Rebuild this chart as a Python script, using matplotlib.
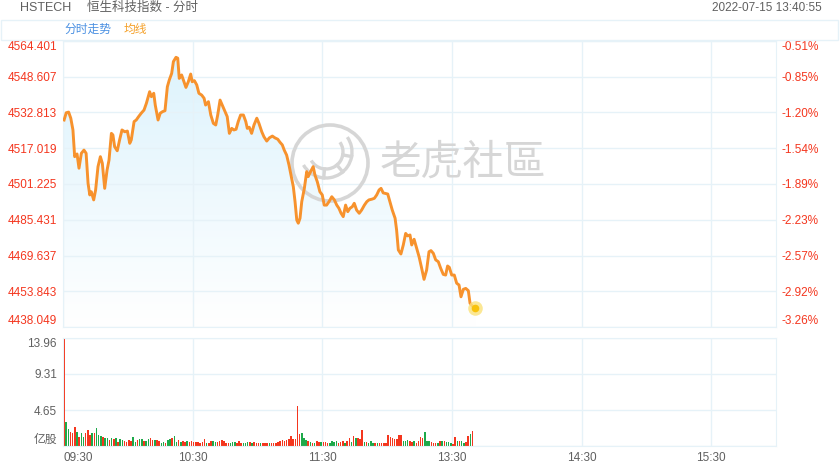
import numpy as np
import matplotlib
matplotlib.use('Agg')
import matplotlib.pyplot as plt
from matplotlib.patches import Rectangle, Circle, Arc, Polygon
from matplotlib.transforms import Affine2D

plt.rcParams['font.family'] = ['Liberation Sans', 'Noto Sans CJK SC', 'DejaVu Sans']

# minutes since 09:30 (lunch break removed), index level
minutes = [0.5, 1.5, 2.6, 3.6, 4.6, 5.4, 6.5, 7.4, 8.5, 9.7,
           10.7, 11.6, 12.4, 13.1, 14.2, 15.1, 16.2, 17.3, 18.2, 19.3,
           20.4, 21.3, 22.4, 23.1, 23.9, 25.1, 26.2, 27.3, 28.6, 29.8,
           30.9, 31.6, 32.9, 33.9, 35.0, 36.2, 37.5, 38.6, 40.1, 40.9,
           42.0, 42.7, 44.0, 45.0, 46.1, 47.2, 48.3, 49.2, 50.3, 51.1,
           52.3, 53.1, 53.8, 54.9, 56.0, 56.9, 58.0, 59.1, 59.8, 60.8,
           61.9, 62.9, 64.2, 65.3, 66.0, 67.3, 68.4, 69.6, 70.7, 71.6,
           72.7, 73.7, 75.0, 76.0, 77.0, 78.1, 79.1, 80.1, 81.1, 82.2,
           83.5, 84.6, 85.3, 86.2, 87.3, 88.4, 89.7, 90.7, 92.0, 93.0,
           94.3, 95.5, 96.9, 98.1, 99.4, 100.4, 101.5, 102.4, 103.5, 104.6,
           105.5, 106.6, 107.4, 108.2, 108.9, 109.7, 110.5, 111.7, 112.8, 113.5,
           114.6, 115.8, 116.6, 117.7, 118.9, 120.0, 120.9, 122.0, 123.1, 124.4,
           125.6, 126.7, 127.7, 128.7, 129.7, 130.8, 131.8, 132.8, 133.9, 134.8,
           135.9, 137.1, 138.2, 139.5, 140.6, 141.6, 142.9, 144.1, 145.2, 146.3,
           147.2, 148.2, 149.0, 150.3, 151.3, 152.4, 153.7, 154.4, 155.2, 156.4,
           157.5, 158.6, 159.5, 160.6, 161.4, 162.5, 163.7, 164.8, 166.0, 167.1,
           168.3, 169.4, 170.3, 171.4, 172.5, 173.7, 174.8, 176.0, 177.1, 178.0,
           178.8, 179.9, 181.1, 182.2, 183.3, 184.2, 185.3, 186.4, 187.6, 188.4,
           189.5, 190.7]
prices = [4529.5, 4532.7, 4533.0, 4530.3, 4525.1, 4513.3, 4514.5, 4508.2, 4514.8, 4516.2,
          4514.8, 4501.5, 4496.4, 4497.8, 4494.2, 4498.6, 4508.9, 4513.3, 4510.4, 4499.3,
          4507.4, 4511.8, 4523.6, 4522.9, 4517.7, 4515.9, 4520.7, 4525.1, 4524.3, 4524.6,
          4519.2, 4520.7, 4528.8, 4529.5, 4531.0, 4532.5, 4533.9, 4536.9, 4542.0, 4539.8,
          4541.3, 4536.1, 4529.5, 4532.5, 4533.2, 4533.6, 4544.2, 4547.2, 4550.1, 4555.3,
          4557.2, 4556.8, 4547.9, 4549.4, 4546.4, 4543.9, 4546.4, 4549.8, 4546.4, 4546.9,
          4545.0, 4541.3, 4540.5, 4539.1, 4536.1, 4537.6, 4531.7, 4528.0, 4527.3, 4531.7,
          4538.3, 4536.1, 4533.2, 4531.0, 4523.6, 4525.8, 4525.1, 4525.4, 4528.8, 4531.7,
          4531.7, 4528.8, 4525.8, 4526.3, 4523.6, 4527.3, 4530.3, 4528.0, 4524.3, 4522.1,
          4520.2, 4521.6, 4522.4, 4521.6, 4521.0, 4519.7, 4518.5, 4516.2, 4514.0, 4509.6,
          4505.2, 4500.0, 4493.4, 4485.3, 4483.9, 4486.1, 4493.4, 4499.3, 4506.7, 4504.5,
          4506.7, 4508.9, 4505.2, 4502.2, 4497.8, 4496.4, 4491.9, 4491.9, 4493.4, 4495.6,
          4494.2, 4491.9, 4490.5, 4488.3, 4486.8, 4491.9, 4489.0, 4490.5, 4491.2, 4492.7,
          4489.7, 4488.3, 4489.7, 4491.9, 4493.4, 4494.2, 4494.5, 4494.9, 4496.4, 4498.6,
          4499.3, 4497.3, 4497.1, 4496.8, 4493.4, 4489.7, 4486.1, 4480.9, 4472.1, 4470.3,
          4474.3, 4479.4, 4478.3, 4478.7, 4474.3, 4476.8, 4472.8, 4469.1, 4464.0, 4459.1,
          4463.2, 4471.3, 4471.8, 4470.6, 4467.7, 4466.9, 4464.0, 4461.3, 4461.0, 4465.0,
          4464.4, 4461.0, 4461.0, 4457.4, 4456.6, 4451.4, 4454.7, 4455.1, 4454.1, 4448.5,
          4447.3, 4446.3]

# per-minute volume (亿股), r = up bar, g = down bar
volumes = [13.96, 3.06, 2.2, 1.85, 1.72, 2.5, 1.77, 1.2, 1.72, 1.2,
           1.64, 2.07, 1.42, 1.72, 1.72, 2.28, 1.42, 1.29, 1.12, 1.0,
           1.0, 0.8, 0.99, 0.86, 0.99, 0.56, 0.86, 0.78, 0.65, 0.56,
           0.78, 0.65, 1.12, 0.52, 0.78, 0.86, 0.86, 0.65, 0.65, 0.9,
           0.99, 0.78, 0.78, 0.78, 0.65, 0.43, 0.56, 0.34, 0.78, 0.86,
           0.99, 1.29, 0.52, 0.78, 0.52, 0.65, 0.52, 0.65, 0.56, 0.65,
           0.52, 0.52, 0.56, 0.43, 0.56, 0.86, 0.43, 0.34, 0.65, 0.65,
           0.56, 0.56, 0.65, 0.78, 0.65, 0.43, 0.34, 0.43, 0.52, 0.56,
           0.34, 0.65, 0.43, 0.43, 0.43, 0.52, 0.56, 0.43, 0.52, 0.43,
           0.43, 0.43, 0.43, 0.34, 0.43, 0.43, 0.34, 0.43, 0.43, 0.56,
           0.65, 0.78, 0.65, 0.78, 0.86, 1.29, 0.9, 0.9, 5.17, 1.55,
           1.64, 0.99, 0.78, 0.65, 0.56, 0.43, 0.43, 0.65, 0.56, 0.52,
           0.56, 0.52, 0.43, 0.34, 0.65, 0.56, 0.65, 0.34, 0.52, 0.65,
           0.43, 0.65, 0.99, 0.56, 1.29, 0.99, 0.99, 0.9, 2.07, 0.56,
           0.52, 0.43, 0.65, 0.43, 0.43, 0.43, 0.34, 0.34, 0.43, 0.34,
           1.42, 1.12, 0.99, 0.9, 0.86, 1.42, 1.42, 0.6, 0.6, 0.78,
           0.6, 0.5, 0.6, 0.45, 0.6, 1.2, 1.0, 1.8, 0.7, 0.7,
           0.5, 0.45, 0.45, 0.45, 0.7, 0.6, 0.7, 0.5, 0.5, 0.45,
           0.3, 1.1, 0.6, 0.7, 0.7, 0.4, 0.5, 1.3, 1.55, 1.94]
vol_dir = ("rggrrrgrgg" "rrrgrgggrg" "grgrgrggrr" "rrggrggrgg" "rrgrrggrgg"
           "rggrgrrgrr" "rrrrrrgrrg" "grrrrrrggg" "rrrgggrgrr" "rgrrrgrrrr"
           "rrrrrrrrrr" "gggrgrgrrg" "rrrggggrrr" "grrgrgrrrg" "rgggrgrrrr"
           "rrrrrrrggg" "rrgrrrrggg" "rrrgrgrggg" "rrgrggrrgr")

price_ticks = [4438.049, 4453.843, 4469.637, 4485.431, 4501.225,
               4517.019, 4532.813, 4548.607, 4564.401]
pct_labels = ['-3.26%', '-2.92%', '-2.57%', '-2.23%', '-1.89%',
              '-1.54%', '-1.20%', '-0.85%', '-0.51%']
vol_ticks = [0, 4.65, 9.31, 13.96]
vol_labels = ['亿股', '4.65', '9.31', '13.96']
time_ticks = [0, 60, 120, 180, 240, 300]
time_labels = ['09:30', '10:30', '11:30', '13:30', '14:30', '15:30']
session_len = 330

RED = '#f4361e'
GREEN = '#1ea94a'
GRID = '#e6f2f8'
GRAY = '#606060'
LINE = '#f7922d'

W, H = 840, 470
fig = plt.figure(figsize=(8.4, 4.7), dpi=100)
px = Affine2D().scale(1, -1).translate(0, H)  # pixel coords, origin top-left

ax = fig.add_axes([63 / W, 1 - 327 / H, 713 / W, 286 / H])
axv = fig.add_axes([63 / W, 1 - 446 / H, 713 / W, 108 / H])

# header
fig.add_artist(Rectangle((1, 20), 837, 20, transform=px, fill=False, ec=GRID, lw=1))
fig.text(20, 8, 'HSTECH', transform=px, fontsize=9, color=GRAY, va='center')
fig.text(87, 8, '恒生科技指数 - 分时', transform=px, fontsize=9, color=GRAY, va='center')
fig.text(822, 8, '2022-07-15 13:40:55', transform=px, fontsize=8.5, color=GRAY,
         va='center', ha='right')
fig.text(64, 30, '分时走势', transform=px, fontsize=8.5, color='#4a90e2', va='center')
fig.text(124, 30, '均线', transform=px, fontsize=8.5, color='#f5a12a', va='center')

# price pane
ylo, yhi = price_ticks[0], price_ticks[-1]
grad = np.linspace(0, 1, 256)[:, None, None]
top_c = np.array([0.86, 0.95, 0.99])
img = top_c + (1 - top_c) * grad
im = ax.imshow(img, extent=[0, session_len, ylo, yhi], aspect='auto',
               origin='upper', zorder=0.5)
poly = Polygon(np.column_stack([[minutes[0]] + minutes + [minutes[-1]],
                                [ylo] + prices + [ylo]]),
               closed=True, fc='none', ec='none')
ax.add_patch(poly)
im.set_clip_path(poly)

# watermark
wm = '#d6d6d6'
ax.add_patch(Circle((330, 163), 38, transform=px, fill=False, ec=wm, lw=2.6, zorder=2))
ax.add_patch(Arc((326, 152), 52, 52, theta1=-35, theta2=150, transform=px,
                 ec=wm, lw=2.4, zorder=2))
ax.add_patch(Arc((326, 152), 34, 34, theta1=-35, theta2=150, transform=px,
                 ec=wm, lw=2.4, zorder=2))
for a in [10, 50, 95]:
    t = np.radians(a)
    ax.plot([326 + 17 * np.cos(t), 326 + 26 * np.cos(t)],
            [152 + 17 * np.sin(t), 152 + 26 * np.sin(t)],
            transform=px, color=wm, lw=2.4, zorder=2)
ax.text(380, 163, '老虎社區', transform=px, fontsize=30, color=wm, va='center',
        family=['Noto Sans CJK TC', 'DejaVu Sans'], zorder=2)

ax.plot(minutes, prices, color=LINE, lw=2.1, zorder=3, solid_joinstyle='round')
ax.scatter([minutes[-1]], [prices[-1]], s=110, color='#fbe27a', alpha=0.8, zorder=4, lw=0)
ax.scatter([minutes[-1]], [prices[-1]], s=30, color='#f8c20c', zorder=5, lw=0)

ax.set_xlim(0, session_len)
ax.set_ylim(ylo, yhi)
ax.set_xticks(time_ticks)
ax.set_yticks(price_ticks, [f'{v:.3f}' for v in price_ticks])
ax.tick_params(axis='x', length=0, labelbottom=False)
ax.tick_params(axis='y', length=0, pad=4.3, labelsize=8.5, labelcolor=RED)
ax.grid(True, color=GRID, lw=1)
for s in ax.spines.values():
    s.set_color(GRID)
ax.get_yticklabels()[0].set_va('bottom')
ax.get_yticklabels()[-1].set_va('top')

ax2 = ax.twinx()
ax2.set_ylim(ylo, yhi)
ax2.set_yticks(price_ticks, pct_labels)
ax2.tick_params(axis='y', length=0, pad=4.3, labelsize=8.5, labelcolor=RED)
for s in ax2.spines.values():
    s.set_visible(False)
ax2.get_yticklabels()[0].set_va('bottom')
ax2.get_yticklabels()[-1].set_va('top')

# volume pane
colors = [RED if c == 'r' else GREEN for c in vol_dir]
n = min(len(volumes), len(colors))
axv.bar(np.arange(n) + 0.5, volumes[:n], width=0.7, color=colors[:n], zorder=2)
axv.set_xlim(0, session_len)
axv.set_ylim(0, vol_ticks[-1])
axv.set_yticks(vol_ticks, vol_labels)
axv.set_xticks(time_ticks, time_labels)
axv.tick_params(length=0, labelsize=8.5, labelcolor=GRAY)
axv.tick_params(axis='y', pad=4.3)
axv.tick_params(axis='x', pad=4)
axv.grid(True, color=GRID, lw=1)
axv.set_axisbelow(True)
for s in axv.spines.values():
    s.set_color(GRID)
axv.get_yticklabels()[0].set_va('bottom')
axv.get_yticklabels()[-1].set_va('top')
axv.get_xticklabels()[0].set_ha('left')

fig.savefig('out.png', dpi=100)
